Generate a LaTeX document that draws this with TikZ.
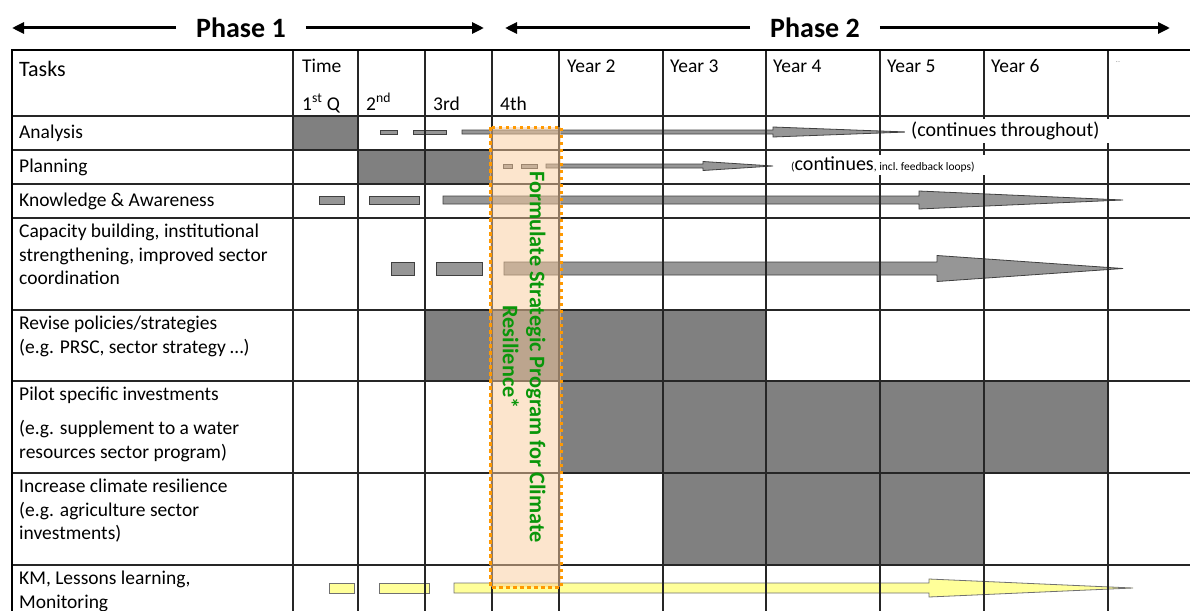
\documentclass[tikz,border=0pt]{standalone}
\usepackage{fontspec}
\setmainfont{Carlito}
\usetikzlibrary{arrows.meta, positioning}
\definecolor{CellGrey}{HTML}{808080}
\definecolor{BarGrey}{HTML}{969696}
\definecolor{BarEdge}{HTML}{404040}
\definecolor{KMYellow}{HTML}{FFFF99}
\definecolor{KMEdge}{HTML}{707070}
\definecolor{StratOrange}{HTML}{FF9900}
\definecolor{StratFill}{HTML}{F9CB9C}
\definecolor{StratGreen}{HTML}{0A960A}
\tikzset{
    % Shaded cell of the schedule
    cell/.style={fill=CellGrey, draw=none},
    % Grey activity bar
    bar/.style={fill=BarGrey, draw=BarEdge, line width=0.8pt, line join=miter},
    % Yellow activity bar
    kmbar/.style={fill=KMYellow, draw=KMEdge, line width=0.8pt, line join=miter},
    % Table lines
    grid/.style={line width=1.4pt, color=black!85},
    frame/.style={line width=2.8pt, color=black},
    % Task labels in the first column
    tasklabel/.style={anchor=north west, inner sep=0pt, align=left,
        font=\fontsize{19.5}{23.5}\selectfont, execute at begin node=\strut},
    % Column headings
    headlabel/.style={anchor=base west, inner sep=0pt,
        font=\fontsize{19.5}{23.5}\selectfont},
    % Phase titles and arrows
    phase/.style={font=\fontsize{28}{32}\selectfont\bfseries, inner xsep=20pt},
    phasearrow/.style={line width=3pt, -{Triangle[length=12pt, width=11pt]}},
    % White note over the grid
    note/.style={anchor=west, fill=white, inner ysep=3pt,
        font=\fontsize{20}{24}\selectfont\frenchspacing},
    % Strategic program box
    stratbox/.style={draw=StratOrange, line width=3pt, dash pattern=on 3.5pt off 3.5pt,
        fill=StratFill, fill opacity=0.5},
    strattext/.style={rotate=-90, align=center, text=StratGreen,
        font=\fontsize{22.3}{27}\selectfont\bfseries}
}
% bar with arrow head: [style]{start}{head}{tip}{y}{half shaft}{half head}
\newcommand{\taskarrow}[7][bar]{%
    \draw[#1] (#2,#5-#6) -- (#3,#5-#6) -- (#3,#5-#7) -- (#4,#5)
        -- (#3,#5+#7) -- (#3,#5+#6) -- (#2,#5+#6) -- cycle;}
\begin{document}
\begin{tikzpicture}[x=1pt, y=-1pt]
    \useasboundingbox (0,0) rectangle (1190,610);
    \clip (0,0) rectangle (1190,610);

    % Phase headings
    \node[phase] (phaseA) at (241,28) {Phase 1};
    \coordinate (phaseAl) at (12,28);
    \coordinate (phaseAr) at (484,28);
    \draw[phasearrow] (phaseA) -- (phaseAl);
    \draw[phasearrow] (phaseA) -- (phaseAr);
    \node[phase] (phaseB) at (815,28) {Phase 2};
    \coordinate (phaseBl) at (505,28);
    \coordinate (phaseBr) at (1170,28);
    \draw[phasearrow] (phaseB) -- (phaseBl);
    \draw[phasearrow] (phaseB) -- (phaseBr);

    % Shaded cells
    \fill[cell] (293,116) rectangle (358,150);
    \fill[cell] (358,150) rectangle (492,184);
    \fill[cell] (425,310) rectangle (766,381);
    \fill[cell] (559,381) rectangle (1108,473);
    \fill[cell] (663,473) rectangle (984,565);

    % Activity bars
    \foreach \a/\b in {380/397, 413/446} \draw[bar] (\a,130) rectangle (\b,134);
    \taskarrow{462}{773}{907}{132}{2}{5}
    \foreach \a/\b in {503/512, 521/537} \draw[bar] (\a,164) rectangle (\b,168);
    \taskarrow{546}{703}{773}{166}{2}{4.5}
    \foreach \a/\b in {319/344, 369/419} \draw[bar] (\a,196) rectangle (\b,204);
    \taskarrow{443}{919}{1123}{200}{4}{9}
    \foreach \a/\b in {391/414, 436/482} \draw[bar] (\a,262) rectangle (\b,275);
    \taskarrow{504}{937}{1123}{268.5}{6.5}{13}
    \foreach \a/\b in {329/354, 379/429} \draw[kmbar] (\a,583) rectangle (\b,593);
    \taskarrow[kmbar]{454}{929}{1133}{588}{5}{9}

    % Table grid
    \foreach \y in {116,150,184,218,310,381,473,565}
        \draw[grid] (12,\y) -- (1190,\y);
    \foreach \x in {293,358,425,492,559,663,766,880,984,1108}
        \draw[grid] (\x,50) -- (\x,612);
    \draw[frame] (1192,50) -- (12,50) -- (12,612);

    % Column headings
    \node[headlabel, font=\fontsize{22}{26}\selectfont] (tasks) at (19,76.5) {Tasks};
    \node[headlabel] (time) at (302,73) {Time};
    \node[headlabel] (qA) at (302,110) {1\textsuperscript{st} Q};
    \node[headlabel] (qB) at (366,110) {2\textsuperscript{nd}};
    \node[headlabel] (qC) at (433,110) {3rd};
    \node[headlabel] (qD) at (500,110) {4th};
    \foreach \x/\n in {567/2, 670/3, 773/4, 887/5, 991/6}
        \node[headlabel] (year\n) at (\x,73) {Year \n};
    \node[font=\fontsize{8}{9}\selectfont, text=black!45] (more) at (1118,62) {..};

    % Tasks
    \node[tasklabel] (analysis) at (19,122) {Analysis};
    \node[tasklabel] (planning) at (19,156) {Planning};
    \node[tasklabel] (knowledge) at (19,190) {Knowledge \& Awareness};
    \node[tasklabel] (capacity) at (19,224) {Capacity building, institutional\\strengthening, improved sector\\coordination};
    \node[tasklabel] (revise) at (19,316) {Revise policies/strategies\\(e.g. PRSC, sector strategy …)};
    \node[tasklabel] (pilot) at (19,387) {Pilot specific investments\\[10.5pt](e.g. supplement to a water\\resources sector program)};
    \node[tasklabel] (increase) at (19,479) {Increase climate resilience\\(e.g. agriculture sector\\investments)};
    \node[tasklabel] (km) at (19,571) {KM, Lessons learning,\\Monitoring};

    % Notes beside the arrows
    \node[note, inner xsep=6pt] (contA) at (905,131)
        {\makebox[193pt][l]{(continues throughout)}};
    \node[note, inner xsep=5pt, inner ysep=2.5pt] (contB) at (786,165)
        {\makebox[305pt][l]{{\fontsize{11.5}{13}\selectfont(}continues{\fontsize{11.5}{13}\selectfont, incl. feedback loops)}}};

    % Strategic program
    \draw[stratbox] (490,127) rectangle (561,587);
    \node[strattext] (strat) at (524,357) {Formulate Strategic Program for Climate\\Resilience*};
\end{tikzpicture}
\end{document}
